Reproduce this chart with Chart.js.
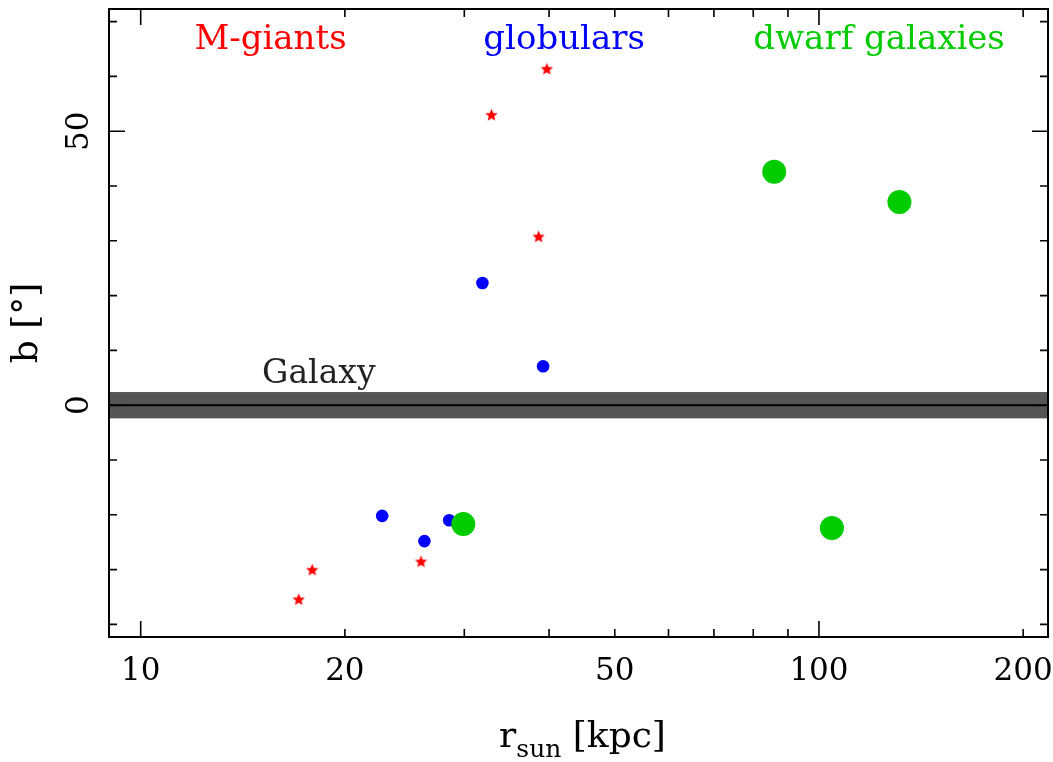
<!DOCTYPE html>
<html>
<head>
<meta charset="utf-8">
<title>b vs r_sun</title>
<script src="https://cdn.jsdelivr.net/npm/chart.js@4.4.0/dist/chart.umd.min.js"></script>
<style>
  html, body { margin: 0; padding: 0; background: #fff; }
  canvas { display: block; }
</style>
</head>
<body>
<canvas id="myChart" width="1053" height="762"></canvas>
<script>
// heliocentric distance r_sun [kpc] and galactic latitude b [deg]
const mGiantsR = [39.7, 32.9, 38.6, 25.9, 17.9, 17.1];
const mGiantsB = [61.3, 52.9, 30.7, -28.6, -30.1, -35.5];
const globularsR = [31.9, 39.2, 22.7, 28.5, 26.2];
const globularsB = [22.3, 7.1, -20.2, -21.0, -24.8];
const dwarfsR = [85.9, 131.4, 29.9, 104.5];
const dwarfsB = [42.6, 37.1, -21.7, -22.4];

// axes
const xLabels = [10, 20, 50, 100, 200];
const xMajorTicks = [10, 100];
const xMinorTicks = [20, 30, 40, 50, 60, 70, 80, 90, 200];
const yLabels = [0, 50];
const yTicks = [-40, -30, -20, -10, 0, 10, 20, 30, 40, 50, 60, 70];

// group names, written at (r, b)
const groupNames = ['M-giants', 'globulars', 'dwarf galaxies'];
const groupNameR = [12, 32, 80];
const groupNameB = 65;
const groupColors = ['#ff0000', '#0000ff', '#00cc00'];

// galactic plane
const galaxyBand = 2.4;
const galaxyLabel = 'Galaxy';
const galaxyLabelR = 15.1;
const galaxyLabelB = 4.0;

const SERIF = '"DejaVu Serif", serif';

// filled five point star used as marker for the M-giants
const makeStar = (r, color) => {
    const c = document.createElement('canvas');
    const s = Math.ceil(r * 2) + 2;
    c.width = s;
    c.height = s;
    const g = c.getContext('2d');
    g.fillStyle = color;
    g.beginPath();
    for (let i = 0; i < 10; i++) {
        const rad = i % 2 === 0 ? r : r * 0.45;
        const ang = -Math.PI / 2 + i * Math.PI / 5;
        g.lineTo(s / 2 + rad * Math.cos(ang), s / 2 + rad * Math.sin(ang));
    }
    g.closePath();
    g.fill();
    return c;
};

const toPoints = (rs, bs) => rs.map((r, i) => ({ x: r, y: bs[i] }));

const framePlugin = {
    id: 'frame',
    beforeDatasetsDraw(chart) {
        const { ctx, chartArea: a, scales: { y } } = chart;
        ctx.save();
        const top = y.getPixelForValue(galaxyBand);
        const bot = y.getPixelForValue(-galaxyBand);
        ctx.fillStyle = '#555555';
        ctx.fillRect(a.left, top, a.right - a.left, bot - top);
        const y0 = y.getPixelForValue(0);
        ctx.strokeStyle = '#000';
        ctx.lineWidth = 2;
        ctx.beginPath();
        ctx.moveTo(a.left, y0);
        ctx.lineTo(a.right, y0);
        ctx.stroke();
        ctx.restore();
    },
    afterDraw(chart) {
        const { ctx, chartArea: a, scales: { x, y } } = chart;
        ctx.save();
        ctx.strokeStyle = '#000';
        ctx.lineWidth = 2;
        ctx.strokeRect(a.left, a.top, a.right - a.left, a.bottom - a.top);

        // ticks point inwards on all four sides
        ctx.lineWidth = 1.6;
        ctx.beginPath();
        const xTick = (v, len) => {
            const px = x.getPixelForValue(v);
            ctx.moveTo(px, a.bottom); ctx.lineTo(px, a.bottom - len);
            ctx.moveTo(px, a.top); ctx.lineTo(px, a.top + len);
        };
        xMajorTicks.forEach(v => xTick(v, 16));
        xMinorTicks.forEach(v => xTick(v, 8));
        yTicks.forEach(v => {
            const py = y.getPixelForValue(v);
            const len = yLabels.includes(v) ? 16 : 8;
            ctx.moveTo(a.left, py); ctx.lineTo(a.left + len, py);
            ctx.moveTo(a.right, py); ctx.lineTo(a.right - len, py);
        });
        ctx.stroke();

        // tick labels
        ctx.fillStyle = '#000';
        ctx.font = '31px ' + SERIF;
        ctx.textAlign = 'center';
        ctx.textBaseline = 'alphabetic';
        xLabels.forEach(v => ctx.fillText(String(v), x.getPixelForValue(v), 680));
        yLabels.forEach(v => {
            ctx.save();
            ctx.translate(88, y.getPixelForValue(v));
            ctx.rotate(-Math.PI / 2);
            ctx.fillText(String(v), 0, 0);
            ctx.restore();
        });

        // x title with subscript
        ctx.textAlign = 'left';
        const big = '36px ' + SERIF;
        const small = '25px ' + SERIF;
        ctx.font = big;
        const w1 = ctx.measureText('r').width;
        const w3 = ctx.measureText(' [kpc]').width;
        ctx.font = small;
        const w2 = ctx.measureText('sun').width;
        let tx = (a.left + a.right) / 2 + 4 - (w1 + w2 + w3) / 2;
        ctx.font = big;
        ctx.fillText('r', tx, 747);
        tx += w1;
        ctx.font = small;
        ctx.fillText('sun', tx, 757);
        tx += w2;
        ctx.font = big;
        ctx.fillText(' [kpc]', tx, 747);

        // y title
        ctx.save();
        ctx.translate(37, (a.top + a.bottom) / 2);
        ctx.rotate(-Math.PI / 2);
        ctx.textAlign = 'center';
        ctx.fillText('b [°]', 0, 0);
        ctx.restore();

        // group names and the galactic plane label
        ctx.font = '34px ' + SERIF;
        ctx.textAlign = 'left';
        groupNames.forEach((name, i) => {
            ctx.fillStyle = groupColors[i];
            ctx.fillText(name, x.getPixelForValue(groupNameR[i]), y.getPixelForValue(groupNameB));
        });
        ctx.fillStyle = '#222';
        ctx.font = '33px ' + SERIF;
        ctx.fillText(galaxyLabel, x.getPixelForValue(galaxyLabelR), y.getPixelForValue(galaxyLabelB));
        ctx.restore();
    }
};

new Chart(document.getElementById('myChart').getContext('2d'), {
    type: 'scatter',
    data: {
        datasets: [
            {
                label: 'dwarf galaxies',
                data: toPoints(dwarfsR, dwarfsB),
                pointStyle: 'circle',
                radius: 12,
                borderWidth: 0,
                backgroundColor: groupColors[2],
                order: 0,
            },
            {
                label: 'globulars',
                data: toPoints(globularsR, globularsB),
                pointStyle: 'circle',
                radius: 6.3,
                borderWidth: 0,
                backgroundColor: groupColors[1],
                order: 1,
            },
            {
                label: 'M-giants',
                data: toPoints(mGiantsR, mGiantsB),
                pointStyle: makeStar(6.5, groupColors[0]),
                radius: 7,
                borderWidth: 0,
                backgroundColor: groupColors[0],
                order: 2,
            }
        ],
    },
    options: {
        responsive: false,
        animation: false,
        devicePixelRatio: 1,
        layout: { autoPadding: false, padding: { left: 109, top: 9, right: 5, bottom: 125 } },
        plugins: { legend: { display: false }, tooltip: { enabled: false } },
        scales: {
            x: { type: 'logarithmic', min: 8.98, max: 217.6, display: false },
            y: { type: 'linear', min: -42.3, max: 72.3, display: false },
        },
    },
    plugins: [framePlugin],
});
</script>
</body>
</html>
